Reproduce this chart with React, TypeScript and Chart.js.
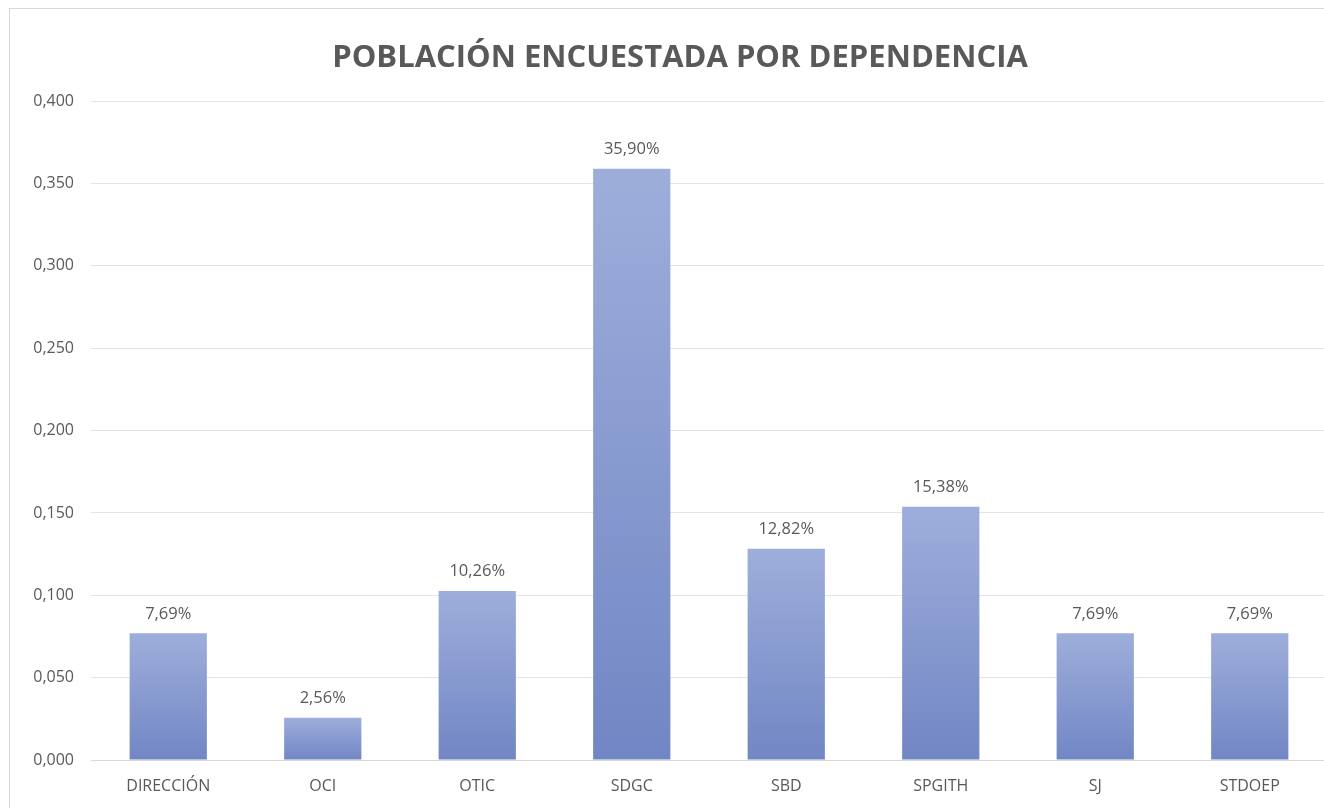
import React, { useEffect, useRef } from "react";
import { Chart, registerables } from "chart.js";

Chart.register(...registerables);

const TITLE = "POBLACIÓN ENCUESTADA POR DEPENDENCIA";
const categories = ["DIRECCIÓN", "OCI", "OTIC", "SDGC", "SBD", "SPGITH", "SJ", "STDOEP"];
const values = [0.0769, 0.0256, 0.1026, 0.359, 0.1282, 0.1538, 0.0769, 0.0769];
const valueLabels = ["7,69%", "2,56%", "10,26%", "35,90%", "12,82%", "15,38%", "7,69%", "7,69%"];
const yTicks = [0, 0.05, 0.1, 0.15, 0.2, 0.25, 0.3, 0.35, 0.4];

const FONT = "'Open Sans', 'Noto Sans', sans-serif";
const TEXT = "#595959";

const labelPlugin = {
  id: "valueLabels",
  afterDatasetsDraw(chart: any) {
    const ctx = chart.ctx;
    const meta = chart.getDatasetMeta(0);
    ctx.save();
    ctx.font = `16.5px ${FONT}`;
    ctx.fillStyle = TEXT;
    ctx.textAlign = "center";
    ctx.textBaseline = "bottom";
    meta.data.forEach((bar: any, i: number) => {
      ctx.fillText(valueLabels[i], bar.x, bar.y - 11);
    });
    ctx.restore();
  },
};

export default function App() {
  const ref = useRef<HTMLCanvasElement | null>(null);
  useEffect(() => {
    if (!ref.current) return;
    const chart = new Chart(ref.current, {
      type: "bar",
      data: {
        labels: categories,
        datasets: [
          {
            data: values,
            backgroundColor: (c: any) => {
              const ch = c.chart;
              const ys = ch.scales && ch.scales.y;
              if (!ys || c.dataIndex === undefined) return "#8196cf";
              const top = ys.getPixelForValue(values[c.dataIndex]);
              const bottom = ys.getPixelForValue(0);
              if (!isFinite(top) || !isFinite(bottom) || top === bottom) return "#8196cf";
              const g = ch.ctx.createLinearGradient(0, top, 0, bottom);
              g.addColorStop(0, "#9eaedb");
              g.addColorStop(1, "#7186c4");
              return g;
            },
            barPercentage: 0.5,
            categoryPercentage: 1,
          },
        ],
      },
      options: {
        animation: false,
        responsive: false,
        layout: { padding: { left: 23, right: 23, top: 0, bottom: 0 } },
        plugins: {
          legend: { display: false },
          tooltip: { enabled: false },
          title: {
            display: true,
            text: TITLE,
            color: TEXT,
            font: { family: FONT, size: 31, weight: "bold" },
            padding: { top: 31, bottom: 24 },
          },
        },
        scales: {
          x: {
            grid: { display: false, drawTicks: false },
            border: { display: true, color: "#d9d9d9" },
            ticks: { color: TEXT, font: { family: FONT, size: 16 }, padding: 17, maxRotation: 0 },
            afterFit: (s: any) => {
              s.height = 48;
            },
          },
          y: {
            min: 0,
            max: 0.4,
            grid: { color: "#e4e4e4", drawTicks: false },
            border: { display: false },
            afterBuildTicks: (s: any) => {
              s.ticks = yTicks.map((v) => ({ value: v }));
            },
            ticks: {
              color: TEXT,
              font: { family: FONT, size: 16 },
              padding: 17,
              callback: (v: any) => Number(v).toFixed(3).replace(".", ","),
            },
            afterFit: (s: any) => {
              s.width = 58;
            },
          },
        },
      },
      plugins: [labelPlugin],
    });
    return () => chart.destroy();
  }, []);

  return (
    <div
      style={{
        position: "fixed",
        left: 0,
        top: 0,
        width: 1324,
        height: 808,
        overflow: "hidden",
        background: "#fff",
      }}
    >
      <div
        style={{
          position: "absolute",
          left: 9,
          top: 8,
          width: 1400,
          height: 900,
          borderLeft: "1px solid #d9d9d9",
          borderTop: "1px solid #d9d9d9",
        }}
      />
      <canvas
        ref={ref}
        width={1340}
        height={799}
        style={{ position: "absolute", left: 10, top: 9, width: 1340, height: 799 }}
      />
    </div>
  );
}
